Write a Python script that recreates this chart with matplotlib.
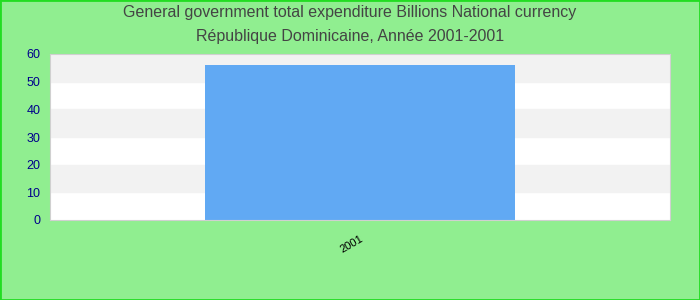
import matplotlib
matplotlib.use('Agg')
import matplotlib.pyplot as plt
from matplotlib.patches import Rectangle
from matplotlib.transforms import ScaledTranslation

years = ['2001']
values = [56.2]
yticks = [0, 10, 20, 30, 40, 50, 60]
title = ('General government total expenditure Billions National currency\n'
         'République Dominicaine, Année 2001-2001')

plt.rcParams['font.family'] = ['Liberation Sans', 'DejaVu Sans']

fig = plt.figure(figsize=(7, 3), dpi=100, facecolor='#90EE90')
fig.patches.append(Rectangle((0, 0), 1, 1, transform=fig.transFigure,
                             fill=False, edgecolor='#22DD22', linewidth=2))
ax = fig.add_axes([50 / 700, 80 / 300, 620 / 700, 166 / 300])
ax.set_facecolor('white')

# alternating bands
for i in range(len(yticks) - 1):
    if i % 2 == 1:
        ax.axhspan(yticks[i], yticks[i + 1], color='#F2F2F2', zorder=0)

ax.bar(range(len(years)), values, width=1.0, color='#61A9F3', zorder=2)
ax.set_xlim(-1, 1)
ax.set_ylim(0, 60)
ax.set_yticks(yticks)
ax.set_xticks(range(len(years)))
ax.set_xticklabels(years, rotation=30, ha='right', rotation_mode='anchor', fontsize=8)
for lbl in ax.get_xticklabels():
    lbl.set_transform(lbl.get_transform() + ScaledTranslation(-6 / 100, 0, fig.dpi_scale_trans))
ax.tick_params(axis='y', colors='#00008B', labelsize=9, length=0, pad=7)
ax.tick_params(axis='x', length=0, pad=10)
for s in ax.spines.values():
    s.set_color('#D0D0D0')

fig.suptitle(title, y=0.982, fontsize=11.5, color='#444444', linespacing=1.75)
fig.savefig('out.png', facecolor=fig.get_facecolor())
